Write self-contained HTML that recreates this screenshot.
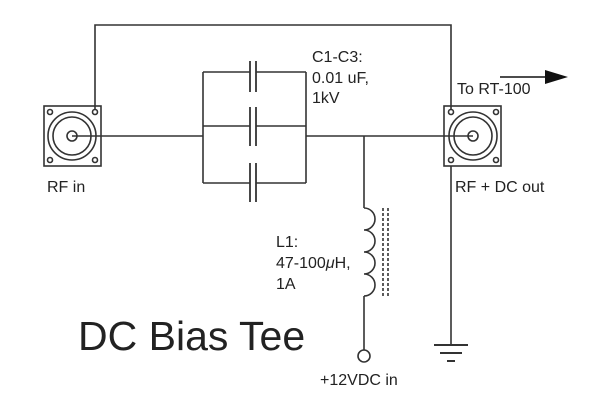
<!DOCTYPE html>
<html><head><style>body{margin:0;background:#fff}svg{display:block}text{font-family:"Liberation Sans",sans-serif;fill:#222}</style></head>
<body>
<svg width="600" height="413" viewBox="0 0 600 413" xmlns="http://www.w3.org/2000/svg">
<g stroke="#333" stroke-width="1.6" fill="none">
<polyline points="95,110 95,25 451,25 451,110"/>
<line x1="451" y1="166" x2="451" y2="345"/>
<line x1="72" y1="136" x2="203" y2="136"/>
<line x1="306" y1="136" x2="473" y2="136"/>
<line x1="203" y1="72" x2="203" y2="183"/>
<line x1="306" y1="72" x2="306" y2="183"/>
<line x1="203" y1="72" x2="250" y2="72"/><line x1="256" y1="72" x2="306" y2="72"/>
<line x1="203" y1="126" x2="250" y2="126"/><line x1="256" y1="126" x2="306" y2="126"/>
<line x1="203" y1="183" x2="250" y2="183"/><line x1="256" y1="183" x2="306" y2="183"/>
<g stroke-width="1.8">
<line x1="250" y1="61" x2="250" y2="92"/><line x1="256" y1="61" x2="256" y2="92"/>
<line x1="250" y1="107" x2="250" y2="146"/><line x1="256" y1="107" x2="256" y2="146"/>
<line x1="250" y1="163" x2="250" y2="202"/><line x1="256" y1="163" x2="256" y2="202"/>
</g>
<rect x="44" y="106" width="57" height="60"/>
<circle cx="72" cy="136" r="24"/><circle cx="72" cy="136" r="19"/><circle cx="72" cy="136" r="5"/>
<circle cx="50" cy="112" r="2.5"/><circle cx="95" cy="112" r="2.5"/><circle cx="50" cy="160" r="2.5"/><circle cx="95" cy="160" r="2.5"/>
<rect x="444" y="106" width="57" height="60"/>
<circle cx="473" cy="136" r="24"/><circle cx="473" cy="136" r="19"/><circle cx="473" cy="136" r="5"/>
<circle cx="451" cy="112" r="2.5"/><circle cx="496" cy="112" r="2.5"/><circle cx="451" cy="160" r="2.5"/><circle cx="496" cy="160" r="2.5"/>
<line x1="364" y1="136" x2="364" y2="208"/>
<path d="M364,208 a11,11 0 0 1 0,22 a11,11 0 0 1 0,22 a11,11 0 0 1 0,22 a11,11 0 0 1 0,22"/>
<line x1="364" y1="296" x2="364" y2="350"/>
<circle cx="364" cy="356" r="6"/>
<line x1="383" y1="208" x2="383" y2="297" stroke-dasharray="3,2"/>
<line x1="388" y1="208" x2="388" y2="297" stroke-dasharray="3,2"/>
<line x1="434" y1="345" x2="468" y2="345" stroke-width="2"/>
<line x1="440" y1="353" x2="462" y2="353" stroke-width="2"/>
<line x1="447" y1="361" x2="455" y2="361" stroke-width="2"/>
<line x1="500" y1="77" x2="548" y2="77" stroke-width="1.8"/>
</g>
<polygon points="545,70 568,77 545,84" fill="#111"/>
<text x="312" y="62" font-size="16">C1-C3:</text>
<text x="312" y="83" font-size="16">0.01 uF,</text>
<text x="312" y="103" font-size="16">1kV</text>
<text x="457" y="94" font-size="16">To RT-100</text>
<text x="47" y="192" font-size="16">RF in</text>
<text x="455" y="192" font-size="16">RF + DC out</text>
<text x="276" y="247" font-size="16">L1:</text>
<text x="276" y="268" font-size="16">47-100<tspan font-style="italic">μ</tspan>H,</text>
<text x="276" y="289" font-size="16">1A</text>
<text x="320" y="385" font-size="16">+12VDC in</text>
<text x="78" y="350" font-size="41">DC Bias Tee</text>
</svg>
</body></html>
